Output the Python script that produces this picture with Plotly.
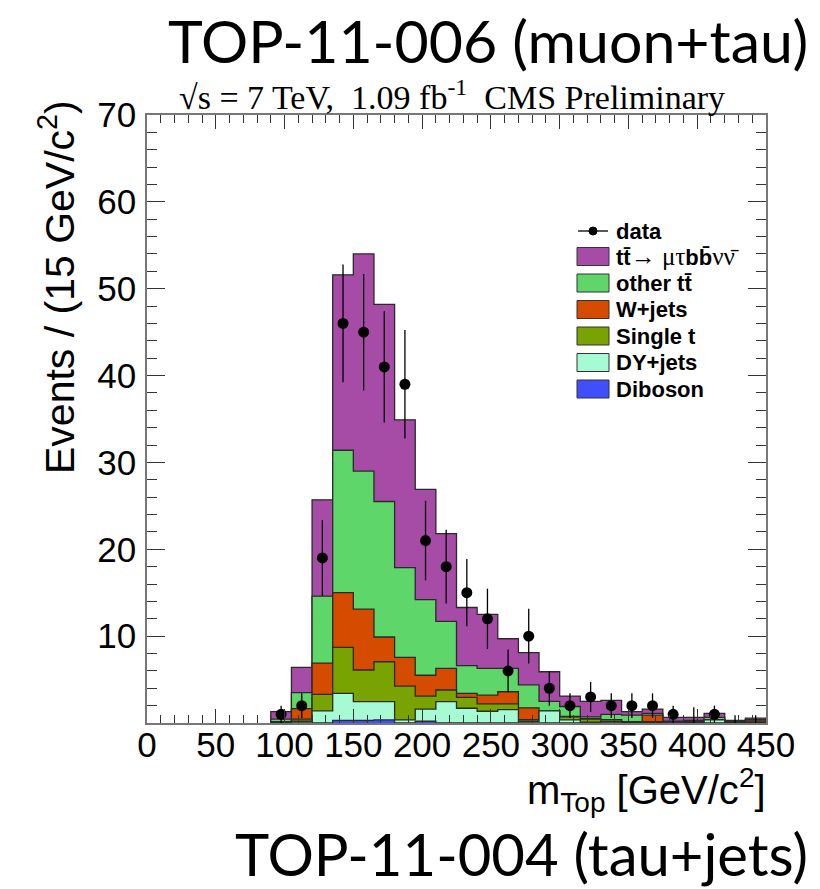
import numpy as np
import plotly.graph_objects as go

# ---------------- data ----------------
bin_width = 15
bin_low = [90, 105, 120, 135, 150, 165, 180, 195, 210, 225, 240, 255,
           270, 285, 300, 315, 330, 345, 360, 375, 390, 405, 420, 435]

data_counts = [1, 2, 19, 46, 45, 41, 39, 21, 18, 15, 12, 6,
               10, 4, 2, 3, 2, 2, 2, 1, 0, 1, 0, 0]
zero_bin_err_up = [0, 0, 0, 0, 0, 0, 0, 0, 0, 0, 0, 0,
                   0, 0, 0, 0, 0, 0, 0, 0, 1.8, 0, 0.9, 0.9]

sig_mutau = [0.85, 2.9, 11.1, 20.2, 25.0, 22.7, 17.0, 12.7, 10.1, 6.7, 6.2, 3.4,
             3.7, 3.4, 1.2, 1.8, 1.6, 0.4, 0.5, 0.45, 0.35, 0.45, 0.1, 0.15]
other_tt = [0.3, 1.85, 7.7, 16.4, 15.9, 15.6, 10.35, 8.7, 5.4, 3.2, 3.1, 2.7,
            2.65, 1.1, 1.15, 0.2, 0.6, 0.75, 0.2, 0.1, 0.15, 0.25, 0.08, 0.15]
wjets = [0.05, 1.2, 3.6, 6.3, 7.0, 2.85, 3.3, 2.4, 2.5, 0.45, 1.0, 1.4,
         1.35, 0.0, 0.05, 0.05, 0.05, 0.05, 0.75, 0.0, 0.05, 0.0, 0.02, 0.15]
single_t = [0.05, 0.25, 1.9, 5.3, 3.65, 4.6, 3.9, 1.5, 1.35, 1.25, 0.85, 0.65,
            0.2, 0.0, 0.35, 0.35, 0.2, 0.05, 0.1, 0.0, 0.05, 0.05, 0.05, 0.05]
dy_jets = [0.05, 0.2, 1.4, 3.1, 2.15, 2.1, 0.35, 1.4, 2.45, 1.7, 1.35, 1.55,
           0.2, 1.4, 0.35, 0.1, 0.15, 0.05, 0.05, 0.1, 0.05, 0.35, 0.05, 0.05]
diboson = [0, 0, 0, 0.3, 0.3, 0.35, 0, 0.2, 0, 0, 0, 0,
           0, 0, 0, 0, 0, 0, 0, 0, 0, 0, 0, 0]

x_ticks = [0, 50, 100, 150, 200, 250, 300, 350, 400, 450]
y_ticks = [10, 20, 30, 40, 50, 60, 70]

# ---------------- styles ----------------
layers = [
    ("Diboson", diboson, "#3f4ffc"),
    ("DY+jets", dy_jets, "#a6fbd5"),
    ("Single t", single_t, "#79a300"),
    ("W+jets", wjets, "#d54b00"),
    ("other tt", other_tt, "#5fd66a"),
    ("signal", sig_mutau, "#a64ca6"),
]

fig = go.Figure()

cum = np.zeros(len(bin_low))
cums = []
for name, vals, color in layers:
    cum = cum + np.array(vals, dtype=float)
    cums.append((name, cum.copy(), color))

x_end = bin_low[-1] + bin_width
xs = [bin_low[0]] + bin_low + [x_end, x_end]
for name, c, color in reversed(cums):
    ys = [0.0] + list(c) + [c[-1], 0.0]
    fig.add_trace(go.Scatter(
        x=xs, y=ys, mode="lines",
        line=dict(shape="hv", color="#2a2a2a", width=1.3),
        fill="tozeroy", fillcolor=color, hoverinfo="skip", name=name))

centers = [b + bin_width / 2 for b in bin_low]
err_up = [np.sqrt(n) if n > 0 else e for n, e in zip(data_counts, zero_bin_err_up)]
err_dn = [np.sqrt(n) for n in data_counts]
sizes = [11 if n > 0 else 0 for n in data_counts]
fig.add_trace(go.Scatter(
    x=centers, y=data_counts, mode="markers", opacity=1,
    marker=dict(color="black", size=sizes, opacity=1, line=dict(width=0)),
    error_y=dict(type="data", symmetric=False, array=err_up, arrayminus=err_dn,
                 color="black", thickness=1.3, width=0),
    name="data"))

W, H = 820, 889
L, R, T, B = 147, 54, 115, 166
pw, ph = W - L - R, H - T - B


def px(xp):
    return (xp - L) / pw


def py(yp):
    return (H - B - yp) / ph


axis_font = dict(family="Liberation Sans, Arial", size=35, color="black")
fig.update_layout(
    width=W, height=H,
    margin=dict(l=L, r=R, t=T, b=B),
    plot_bgcolor="white", paper_bgcolor="white",
    showlegend=False,
    xaxis=dict(range=[0, 450], tickvals=x_ticks, ticks="inside", ticklen=14,
               tickwidth=1, tickcolor="#333333", mirror="allticks",
               showline=True, linecolor="#777777", linewidth=1.5,
               showgrid=False, zeroline=False, tickfont=axis_font,
               ticklabelstandoff=-10,
               minor=dict(ticks="inside", ticklen=8, dtick=10, tick0=0,
                          tickcolor="#333333", showgrid=False)),
    yaxis=dict(range=[0, 70], tickvals=y_ticks, ticks="inside", ticklen=18,
               tickwidth=1, tickcolor="#333333", mirror="allticks",
               showline=True, linecolor="#777777", linewidth=1.5,
               showgrid=False, zeroline=False, tickfont=axis_font,
               ticklabelstandoff=2,
               minor=dict(ticks="inside", ticklen=10, dtick=2, tick0=0,
                          tickcolor="#333333", showgrid=False)),
)

ann = []
ann.append(dict(text="TOP-11-006 (muon+tau)", x=px(810), y=py(40), xref="paper",
                yref="paper", xanchor="right", yanchor="middle", showarrow=False,
                font=dict(family="Lato", size=59, color="black")))
ann.append(dict(text="TOP-11-004 (tau+jets)", x=px(810), y=py(853), xref="paper",
                yref="paper", xanchor="right", yanchor="middle", showarrow=False,
                font=dict(family="Lato", size=58, color="black")))
ann.append(dict(text="√s = 7 TeV,  1.09 fb<sup>-1</sup>  CMS Preliminary",
                x=px(452), y=py(95), xref="paper", yref="paper",
                xanchor="center", yanchor="middle", showarrow=False,
                font=dict(family="Liberation Serif", size=34, color="black")))
ann.append(dict(text="Events / (15 GeV/c<sup>2</sup>)", x=px(57), y=py(98),
                xref="paper", yref="paper", xanchor="center", yanchor="top",
                textangle=-90, showarrow=False,
                font=dict(family="Liberation Sans, Arial", size=41, color="black")))
ann.append(dict(text="m<sub>Top</sub> [GeV/c<sup>2</sup>]", x=px(768), y=py(790),
                xref="paper", yref="paper", xanchor="right", yanchor="middle",
                showarrow=False,
                font=dict(family="Liberation Sans, Arial", size=40, color="black")))

# legend (drawn manually to match the ROOT style)
shapes = []
leg_font = dict(family="Liberation Sans, Arial", size=22, color="black")
serif = "font-family:Liberation Serif;font-size:25px"
shapes.append(dict(type="line", xref="paper", yref="paper",
                   x0=px(578), x1=px(608), y0=py(231), y1=py(231),
                   line=dict(color="black", width=1.3)))
shapes.append(dict(type="circle", xref="paper", yref="paper",
                   x0=px(589), x1=px(597), y0=py(227), y1=py(235),
                   fillcolor="black", line=dict(color="black", width=1)))
ann.append(dict(text="<b>data</b>", x=px(614), y=py(231), xref="paper",
                yref="paper", xanchor="left", yanchor="middle", showarrow=False,
                font=leg_font))
leg_entries = [
    ("<b>tt̄</b><span style='" + serif + "'>→ μτ</span><b>bb̄</b><span style='" + serif + "'>νν̄</span>",
     "#a64ca6", 256.5),
    ("<b>other tt̄</b>", "#5fd66a", 283),
    ("<b>W+jets</b>", "#d54b00", 309.5),
    ("<b>Single t</b>", "#79a300", 336),
    ("<b>DY+jets</b>", "#a6fbd5", 362.5),
    ("<b>Diboson</b>", "#3f4ffc", 389),
]
for text, color, yc in leg_entries:
    shapes.append(dict(type="rect", xref="paper", yref="paper",
                       x0=px(577), x1=px(609), y0=py(yc + 9), y1=py(yc - 9),
                       fillcolor=color, line=dict(color="#333333", width=1)))
    ann.append(dict(text=text, x=px(614), y=py(yc), xref="paper", yref="paper",
                    xanchor="left", yanchor="middle", showarrow=False,
                    font=leg_font))

fig.update_layout(annotations=ann, shapes=shapes)
fig.write_html("out.html")
